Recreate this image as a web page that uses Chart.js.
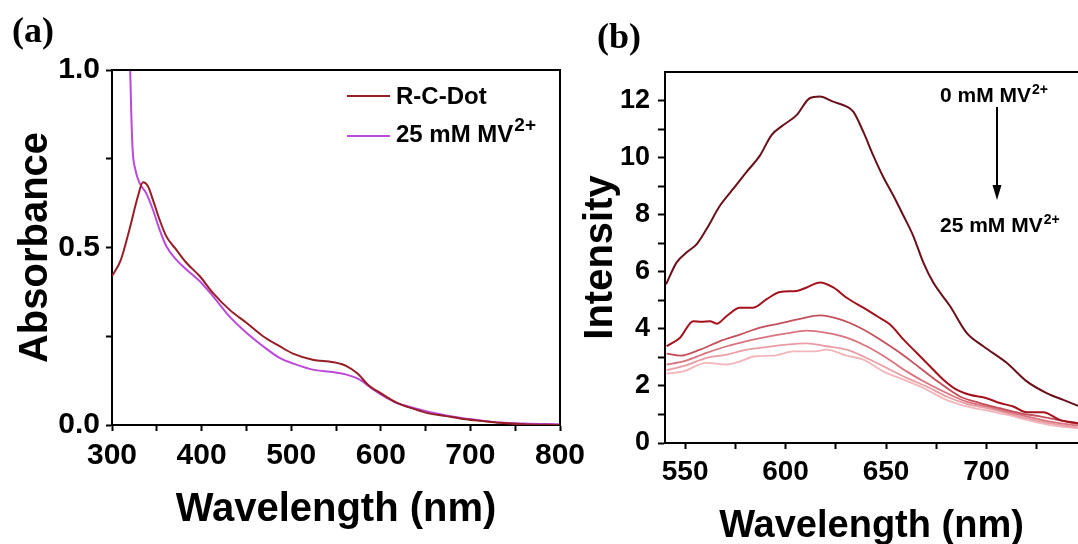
<!DOCTYPE html>
<html><head><meta charset="utf-8">
<script src="https://cdn.jsdelivr.net/npm/chart.js@4.4.1/dist/chart.umd.min.js"></script>
<style>
html,body{margin:0;padding:0;background:#fff;width:1078px;height:544px;overflow:hidden;position:relative;}
canvas{position:absolute;top:0;}
#ca{left:0;} #cb{left:578px;}
</style></head><body>
<canvas id="ca" width="600" height="544"></canvas>
<canvas id="cb" width="500" height="544"></canvas>
<script>
const FONT = "'Liberation Sans', Arial, sans-serif";
const SERIF = "'Liberation Serif', 'Times New Roman', serif";

// ---------- Panel (a): absorbance ----------
const seriesNamesA = ['R-C-Dot', '25 mM MV'];
const rcDotNm  = [300,310,319.5,329,334.5,340,345.6,353,360.5,371.7,383,398,412.6,431,450,468.5,487,502,524,546.7,561.7,573,587.7,599,617.5,636,654.7,673,692,710.6,733,759,800];
const rcDotAbs = [0.419,0.466,0.551,0.645,0.684,0.673,0.635,0.579,0.532,0.494,0.457,0.419,0.372,0.325,0.288,0.250,0.222,0.201,0.184,0.177,0.166,0.147,0.109,0.091,0.063,0.046,0.032,0.025,0.017,0.012,0.006,0.002,0.0];
const mvNm  = [316,318,320.3,321.5,323,326,330.7,338,345.6,353,360.5,371.7,383,398,412.6,431,450,468.5,487,505.8,524,546.7,561.7,576.5,591.4,606,620,636,655,673,692,711,733,760,800];
const mvAbs = [1.6,1.25,1.0,0.88,0.776,0.72,0.682,0.654,0.607,0.551,0.504,0.466,0.438,0.405,0.363,0.306,0.260,0.222,0.189,0.170,0.156,0.149,0.142,0.128,0.100,0.077,0.060,0.049,0.036,0.027,0.019,0.013,0.007,0.004,0.002];
const xTicksA = [300,350,400,450,500,550,600,650,700,750,800];
const xLabelsA = [300,400,500,600,700,800];
const yTicksA = [0,0.25,0.5,0.75,1.0];
const yLabelsA = [0,0.5,1.0];

// ---------- Panel (b): emission intensity ----------
const seriesNamesB = ['0 mM MV', 'c1', 'c2', 'c3', 'c4', '25 mM MV'];
const b0Nm = [540.5,545.8,550.8,555.8,560.7,567.4,574,580.6,587.3,593,598.9,605.5,612,617,623.7,630.4,633.7,638.7,643.6,648.6,653.6,658.6,663.5,668.5,673.5,681.8,690.1,698.4,710,720,729.9,738.2,745.5];
const b0I  = [5.56,6.33,6.68,6.97,7.50,8.32,8.91,9.50,10.08,10.79,11.14,11.49,12.08,12.14,11.96,11.79,11.61,10.90,10.08,9.32,8.67,7.97,7.26,6.33,5.62,4.80,3.86,3.39,2.81,2.16,1.75,1.51,1.3];
const b1Nm = [540.8,547.5,554.1,558,562.4,565.7,570.7,577.3,583.9,590.6,597.2,605.5,610.5,617.1,623.7,630.4,638.7,645.3,652,658.6,665.2,671.8,678.5,685.1,691.7,700,706.6,713.3,720,728.2,736.5,745.5];
const b1I  = [3.39,3.69,4.27,4.25,4.27,4.18,4.45,4.74,4.74,5.04,5.29,5.33,5.45,5.62,5.45,5.09,4.74,4.45,4.15,3.63,3.16,2.69,2.22,1.87,1.69,1.57,1.40,1.28,1.08,1.08,0.81,0.69];
const b2Nm = [540.8,547.5,557.4,567.4,577.3,587.3,597.2,607.2,617.1,627.1,637,647,656.9,666.9,676.8,686.8,696.7,706.6,716.6,726.6,736.5,745.5];
const b2I  = [3.13,3.06,3.27,3.57,3.80,4.04,4.19,4.35,4.47,4.33,4.04,3.63,3.16,2.63,2.10,1.63,1.40,1.22,1.05,0.93,0.79,0.67];
const b3Nm = [540.8,549.1,560.7,570.7,580.6,590.6,600.5,610.5,620.4,630.4,640.3,650.3,660.2,670.2,680.1,690.1,700,710,720,731.5,745.5];
const b3I  = [2.75,2.86,3.16,3.39,3.57,3.72,3.84,3.94,3.86,3.69,3.39,2.98,2.51,2.10,1.75,1.45,1.28,1.10,0.93,0.75,0.61];
const b4Nm = [540.8,549.1,560.7,570.7,580.6,590.6,600.5,610.5,620.4,630.4,640.3,650.3,660.2,670.2,680.1,690.1,700,710,720,731.5,745.5];
const b4I  = [2.55,2.69,2.98,3.10,3.27,3.36,3.45,3.49,3.39,3.27,2.98,2.63,2.28,1.98,1.63,1.37,1.22,1.05,0.87,0.69,0.54];
const b5Nm = [540.8,549.1,560.7,570.7,577.3,585,593.9,603.9,613.8,620.4,630.4,638.7,648.6,658.6,668.5,680.1,690.1,700,710,720,731.5,745.5];
const b5I  = [2.43,2.51,2.81,2.75,2.86,3.04,3.06,3.21,3.21,3.27,3.06,2.92,2.51,2.22,1.93,1.51,1.28,1.14,0.99,0.81,0.63,0.52];
const xTicksB = [550,575,600,625,650,675,700,725];
const xLabelsB = [550,600,650,700];
const yTicksB = [0,1,2,3,4,5,6,7,8,9,10,11,12];
const yLabelsB = [0,2,4,6,8,10,12];

const colorsA = ['#961e26', '#bd48dc'];
const colorsB = ['#6a1019', '#a3121c', '#c4505c', '#d9737e', '#e99ca4', '#f2b6bb'];

const toXY = (xs, ys) => xs.map((x, i) => ({x, y: ys[i]}));

const framePlugin = {
  id: 'frame',
  afterDraw(chart, args, opts) {
    const {ctx, chartArea: a} = chart;
    ctx.save(); ctx.strokeStyle = '#000'; ctx.lineWidth = 2;
    ctx.beginPath();
    ctx.moveTo(a.left, a.top); ctx.lineTo(a.right, a.top);
    if (opts.right) ctx.lineTo(a.right, a.bottom);
    ctx.stroke(); ctx.restore();
  }
};

function supText(ctx, x, y, main, sup, size, supSize, raise) {
  ctx.textBaseline = 'alphabetic'; ctx.textAlign = 'left'; ctx.fillStyle = '#000';
  ctx.font = `bold ${size}px ${FONT}`; ctx.fillText(main, x, y);
  const w = ctx.measureText(main).width;
  ctx.font = `bold ${supSize}px ${FONT}`; ctx.fillText(sup, x + w + 1, y - raise);
}

const decorA = {
  id: 'decorA',
  afterDraw(chart) {
    const ctx = chart.ctx;
    ctx.save();
    ctx.fillStyle = '#000'; ctx.textBaseline = 'middle'; ctx.textAlign = 'left';
    ctx.font = `bold 36px ${SERIF}`; ctx.fillText('(a)', 12, 33);
    const ds = chart.data.datasets;
    const rows = [{y: 96, ty: 104}, {y: 136, ty: 141.5}];
    rows.forEach((r, i) => {
      ctx.strokeStyle = ds[i].borderColor; ctx.lineWidth = 2;
      ctx.beginPath(); ctx.moveTo(347, r.y); ctx.lineTo(390, r.y); ctx.stroke();
    });
    ctx.font = `bold 24px ${FONT}`; ctx.textBaseline = 'alphabetic';
    ctx.fillText(seriesNamesA[0], 396, rows[0].ty);
    supText(ctx, 396, rows[1].ty, seriesNamesA[1], '2+', 24, 19, 11);
    ctx.restore();
  }
};

const decorB = {
  id: 'decorB',
  afterDraw(chart) {
    const ctx = chart.ctx;
    ctx.save();
    ctx.fillStyle = '#000'; ctx.textBaseline = 'middle'; ctx.textAlign = 'left';
    ctx.font = `bold 36px ${SERIF}`; ctx.fillText('(b)', 19, 39);
    supText(ctx, 362, 102, seriesNamesB[0], '2+', 21, 14, 8);
    supText(ctx, 362, 232, seriesNamesB[seriesNamesB.length - 1], '2+', 21, 14, 8);
    ctx.strokeStyle = '#000'; ctx.lineWidth = 2;
    ctx.beginPath(); ctx.moveTo(419, 107); ctx.lineTo(419, 190); ctx.stroke();
    ctx.beginPath(); ctx.moveTo(414.5, 185); ctx.lineTo(423.5, 185); ctx.lineTo(419, 200); ctx.closePath(); ctx.fill();
    ctx.restore();
  }
};

function axisCommon(tickVals, labelVals, fmt, fontSize, pad, tickLen) {
  return {
    type: 'linear',
    afterBuildTicks: (ax) => { ax.ticks = tickVals.map(v => ({value: v})); },
    ticks: {
      color: '#000', padding: pad, autoSkip: false, maxRotation: 0,
      font: {family: FONT, size: fontSize, weight: 'bold'},
      callback: (v) => labelVals.some(l => Math.abs(l - v) < 1e-9) ? fmt(v) : ''
    },
    grid: {display: true, drawOnChartArea: false, drawTicks: true, tickLength: tickLen, tickColor: '#000', tickWidth: 2},
    border: {display: true, color: '#000', width: 2}
  };
}

Chart.defaults.font.family = FONT;

// Chart A
const xA = axisCommon(xTicksA, xLabelsA, v => String(v), 30, 7, 6);
Object.assign(xA, {min: 300, max: 800, position: 'bottom',
  afterFit: (s) => { s.height = 119; },
  title: {display: true, text: 'Wavelength (nm)', color: '#000',
    font: {family: FONT, size: 40, weight: 'bold', lineHeight: 1.2}, padding: {top: 0, bottom: 10}}});
const yA = axisCommon(yTicksA, yLabelsA, v => v.toFixed(1), 30, 6, 6);
Object.assign(yA, {min: 0, max: 1.0, position: 'left',
  afterFit: (s) => { s.width = 112; },
  title: {display: true, text: 'Absorbance', color: '#000',
    font: {family: FONT, size: 40, weight: 'bold', lineHeight: 1.2}, padding: {top: 12, bottom: 0}}});

new Chart(document.getElementById('ca'), {
  type: 'line',
  data: {
    datasets: [
      {label: seriesNamesA[0], data: toXY(rcDotNm, rcDotAbs), borderColor: colorsA[0], borderWidth: 2, pointRadius: 0, cubicInterpolationMode: 'monotone', fill: false},
      {label: seriesNamesA[1], data: toXY(mvNm, mvAbs), borderColor: colorsA[1], borderWidth: 2, pointRadius: 0, cubicInterpolationMode: 'monotone', fill: false}
    ]
  },
  options: {
    responsive: false, animation: false, devicePixelRatio: 1,
    layout: {padding: {left: 0, top: 70, right: 40, bottom: 0}},
    plugins: {legend: {display: false}, tooltip: {enabled: false}, frame: {right: true}},
    scales: {x: xA, y: yA}
  },
  plugins: [framePlugin, decorA]
});

// Chart B
const xB = axisCommon(xTicksB, xLabelsB, v => String(v), 28, 6, 6);
Object.assign(xB, {min: 540, max: 745.5, position: 'bottom',
  afterFit: (s) => { s.height = 101; },
  title: {display: true, text: 'Wavelength (nm)', color: '#000',
    font: {family: FONT, size: 38, weight: 'bold', lineHeight: 0.8}, padding: {top: 0, bottom: 2}}});
const yB = axisCommon(yTicksB, yLabelsB, v => String(v), 27, 8, 7);
Object.assign(yB, {min: 0, max: 13, position: 'left',
  afterFit: (s) => { s.width = 87; },
  title: {display: true, text: 'Intensity', color: '#000',
    font: {family: FONT, size: 40, weight: 'bold', lineHeight: 0.8}, padding: {top: 7, bottom: 0}}});

const bSeries = [[b0Nm, b0I], [b1Nm, b1I], [b2Nm, b2I], [b3Nm, b3I], [b4Nm, b4I], [b5Nm, b5I]];
new Chart(document.getElementById('cb'), {
  type: 'line',
  data: {
    datasets: bSeries.map((s, i) => ({
      label: seriesNamesB[i], data: toXY(s[0], s[1]), borderColor: colorsB[i],
      borderWidth: i < 2 ? 2 : 1.8, pointRadius: 0, cubicInterpolationMode: 'monotone', fill: false,
      order: i
    }))
  },
  options: {
    responsive: false, animation: false, devicePixelRatio: 1,
    layout: {padding: {left: 0, top: 72, right: 0, bottom: 0}},
    plugins: {legend: {display: false}, tooltip: {enabled: false}, frame: {right: false}},
    scales: {x: xB, y: yB}
  },
  plugins: [framePlugin, decorB]
});
</script>
</body></html>
